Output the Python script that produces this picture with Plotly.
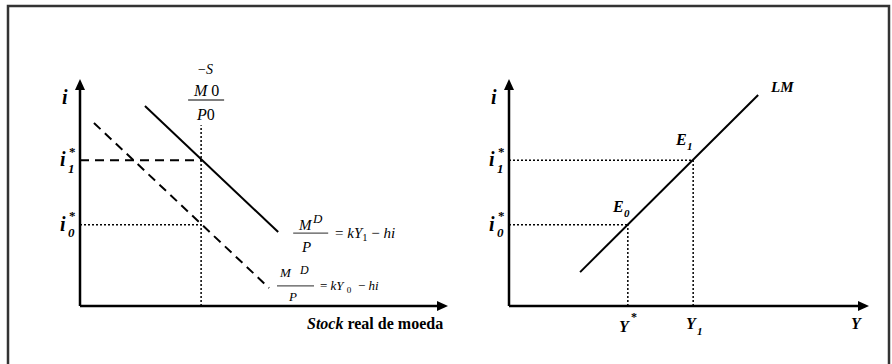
import plotly.graph_objects as go

# ---------------- data ----------------
# Left panel: money market (x = real money stock, y = interest rate i)
i_levels = [3.6, 6.45]            # i0*, i1*
real_supply = 3.3                 # M0/P0 (vertical real money supply)
supply_top = 8.0
md1_stock = [1.77, 5.40]          # M^D/P = kY1 - hi
md1_i = [8.85, 3.27]
md0_stock = [0.38, 5.15]          # M^D/P = kY0 - hi
md0_i = [8.10, 0.80]
# Right panel: LM curve
lm_Y = [1.98, 6.94]
lm_i = [1.50, 9.34]
Y_levels = [3.31, 5.13]           # Y*, Y1
axis_max = 10

W, H = 892, 364
FONT = "Liberation Serif, Times New Roman, serif"
BLACK = "#000000"
DOT = "2px,2px"
DASH = "9px,6px"

fig = go.Figure()

def line(x, y, xa, ya, width=2, dash=None):
    fig.add_trace(go.Scatter(x=x, y=y, xaxis=xa, yaxis=ya, mode="lines",
                             line=dict(color=BLACK, width=width, dash=dash),
                             hoverinfo="skip", showlegend=False))

i0, i1 = i_levels
Ys, Y1 = Y_levels
shapes = []

# axes with arrowheads
for xa, ya in (("x", "y"), ("x2", "y2")):
    line([0, axis_max - 0.15], [0, 0], xa, ya, 2.5)
    line([0, 0], [0, axis_max - 0.25], xa, ya, 2.5)
    shapes.append(dict(type="path", xref=xa, yref=ya, xsizemode="pixel", ysizemode="pixel",
                       xanchor=axis_max, yanchor=0, path="M1,0 L-10,5 L-10,-5 Z",
                       fillcolor=BLACK, line=dict(width=0)))
    shapes.append(dict(type="path", xref=xa, yref=ya, xsizemode="pixel", ysizemode="pixel",
                       xanchor=0, yanchor=axis_max, path="M0,1 L-5,-10 L5,-10 Z",
                       fillcolor=BLACK, line=dict(width=0)))

# left panel
line([real_supply, real_supply], [0, supply_top], "x", "y", 1.5, DOT)
line([0, real_supply], [i0, i0], "x", "y", 1.5, DOT)
line([0, real_supply], [i1, i1], "x", "y", 2, DASH)
line(md1_stock, md1_i, "x", "y", 2)
line(md0_stock, md0_i, "x", "y", 2, DASH)
# right panel
line([0, Ys], [i0, i0], "x2", "y2", 1.5, DOT)
line([0, Y1], [i1, i1], "x2", "y2", 1.5, DOT)
line([Ys, Ys], [0, i0], "x2", "y2", 1.5, DOT)
line([Y1, Y1], [0, i1], "x2", "y2", 1.5, DOT)
line(lm_Y, lm_i, "x2", "y2", 2)

ann = []

def txt(text, x, y, xref, yref, size, xs=0, ys=0, xa="center", ya="middle"):
    ann.append(dict(text=text, x=x, y=y, xref=xref, yref=yref, xshift=xs, yshift=ys,
                    xanchor=xa, yanchor=ya, showarrow=False,
                    font=dict(family=FONT, size=size, color=BLACK)))

def bi(s):
    return "<b><i>" + s + "</i></b>"

# i labels on both vertical axes
for xr, yr in (("x", "y"), ("x2", "y2")):
    txt(bi("i"), 0, axis_max, xr, yr, 20, xs=-10, ys=-17, xa="right")
    for lev, sub in ((i1, "1"), (i0, "0")):
        txt(bi("i"), 0, lev, xr, yr, 20, xs=-12, ys=1, xa="right")
        txt("<b>*</b>", 0, lev, xr, yr, 13, xs=-13, ys=9, xa="left")
        txt(bi(sub), 0, lev, xr, yr, 13, xs=-14, ys=-8, xa="left")

# supply label  -S / M0 / P0
txt("−<i>S</i>", real_supply, axis_max, "x", "y", 14, xs=4, ys=10)
txt("<i>M</i> 0", real_supply, axis_max, "x", "y", 16, xs=5, ys=-11)
txt("<i>P</i>0", real_supply, axis_max, "x", "y", 16, xs=4, ys=-35)

# money demand labels
txt("<i>M</i>", md1_stock[1], md1_i[1], "x", "y", 15, xs=27, ys=7)
txt("<i>D</i>", md1_stock[1], md1_i[1], "x", "y", 13, xs=39, ys=14)
txt("<i>P</i>", md1_stock[1], md1_i[1], "x", "y", 15, xs=28, ys=-15)
txt("= <i>kY</i><sub>1</sub> − <i>hi</i>", md1_stock[1], md1_i[1], "x", "y", 15,
    xs=55, ys=-2, xa="left")

txt("<i>M</i>", md0_stock[1], md0_i[1], "x", "y", 13, xs=16, ys=15)
txt("<i>D</i>", md0_stock[1], md0_i[1], "x", "y", 12, xs=35, ys=18)
txt("<i>P</i>", md0_stock[1], md0_i[1], "x", "y", 13, xs=23, ys=-9)
txt("= <i>kY</i> <sub>0</sub>  − <i>hi</i>", md0_stock[1], md0_i[1], "x", "y", 13,
    xs=49, ys=1, xa="left")

txt("<b><i>Stock</i> real de moeda</b>", axis_max, 0, "x", "y", 16, xs=-2, ys=-17, xa="right")

# right panel labels
txt(bi("LM"), lm_Y[1], lm_i[1], "x2", "y2", 15, xs=24, ys=8)
txt(bi("E"), Y1, i1, "x2", "y2", 16, xs=-12, ys=21)
txt(bi("1"), Y1, i1, "x2", "y2", 11, xs=-3, ys=14)
txt(bi("E"), Ys, i0, "x2", "y2", 16, xs=-10, ys=18)
txt(bi("0"), Ys, i0, "x2", "y2", 11, xs=-1, ys=12)
txt(bi("Y"), Ys, 0, "x2", "y2", 16, xs=-3, ys=-20)
txt("<b>*</b>", Ys, 0, "x2", "y2", 12, xs=6, ys=-11)
txt(bi("Y"), Y1, 0, "x2", "y2", 16, xs=-2, ys=-17)
txt(bi("1"), Y1, 0, "x2", "y2", 11, xs=7, ys=-25)
txt(bi("Y"), axis_max, 0, "x2", "y2", 16, xs=-12, ys=-17)

shapes += [
    # outer frame
    dict(type="rect", xref="paper", yref="paper", x0=8 / W, x1=889 / W,
         y0=-0.2, y1=1 - 6 / H, line=dict(color="#333333", width=2.5)),
    # fraction bars
    dict(type="line", xref="x", yref="y", xsizemode="pixel", ysizemode="pixel",
         xanchor=real_supply, yanchor=axis_max, x0=-13, x1=23, y0=-20, y1=-20,
         line=dict(color="#555555", width=1.3)),
    dict(type="line", xref="x", yref="y", xsizemode="pixel", ysizemode="pixel",
         xanchor=md1_stock[1], yanchor=md1_i[1], x0=15, x1=50, y0=-1, y1=-1,
         line=dict(color="#555555", width=1.3)),
    dict(type="line", xref="x", yref="y", xsizemode="pixel", ysizemode="pixel",
         xanchor=md0_stock[1], yanchor=md0_i[1], x0=8, x1=45, y0=2, y1=2,
         line=dict(color="#555555", width=1.2)),
]

# pixel layout: value 0 -> px 306, value 10 -> px 80 (y); extend ranges to avoid clipping
lo, hi = -0.4, 10.6
ppu_y = (306 - 80) / axis_max
ydom = [(H - (306 - lo * ppu_y)) / H, (H - (80 - (hi - axis_max) * ppu_y)) / H]

def xdom(p0, p10):
    ppu = (p10 - p0) / axis_max
    return [(p0 + lo * ppu) / W, (p10 + (hi - axis_max) * ppu) / W]

fig.update_layout(
    width=W, height=H, margin=dict(l=0, r=0, t=0, b=0),
    paper_bgcolor="white", plot_bgcolor="white", showlegend=False,
    xaxis=dict(domain=xdom(80, 447), range=[lo, hi], visible=False, fixedrange=True),
    yaxis=dict(domain=ydom, range=[lo, hi], visible=False, fixedrange=True),
    xaxis2=dict(domain=xdom(509, 868), range=[lo, hi], visible=False, fixedrange=True),
    yaxis2=dict(domain=ydom, range=[lo, hi], visible=False, anchor="x2", fixedrange=True),
    annotations=ann, shapes=shapes,
)
fig.write_html("out.html", config={"displayModeBar": False},
               post_script="document.body.style.margin='0';")
